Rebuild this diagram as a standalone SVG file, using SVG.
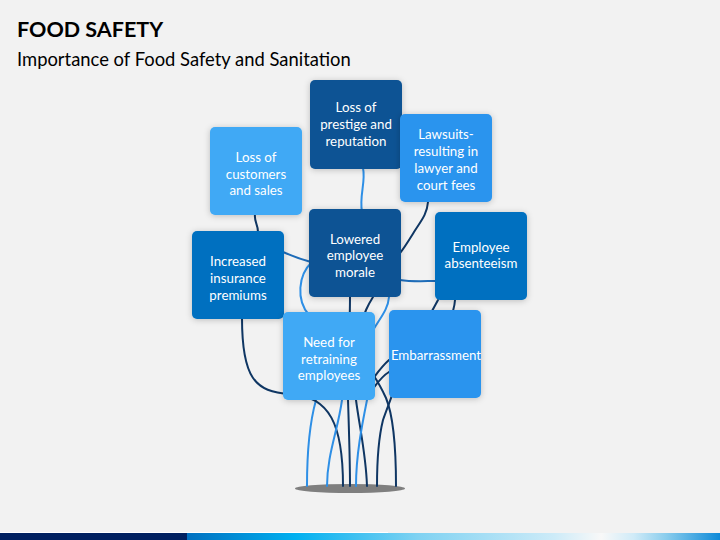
<svg xmlns="http://www.w3.org/2000/svg" width="720" height="540" viewBox="0 0 720 540">
<defs>
<style>
.title{font-family:Lato,"Liberation Sans",sans-serif;font-weight:bold;font-size:21.5px;fill:#000}
.sub{font-family:Lato,"Liberation Sans",sans-serif;font-size:18.4px;fill:#000}
.lbl{font-family:Lato,"Liberation Sans",sans-serif;font-size:13.3px;fill:#fff;text-anchor:middle}
.c{fill:none;stroke-width:2;stroke-linecap:round}
.dk{stroke:#0F3663}
.bl{stroke:#2E8FE6}
.md{stroke:#1E6CB8}
.box{filter:url(#sh)}
.light{fill:#3FA9F5}
.dark{fill:#0B5394}
.mid{fill:#0070C0}
.bright{fill:#2B94EE}
</style>
<filter id="sh" x="-20%" y="-20%" width="140%" height="140%">
<feDropShadow dx="0" dy="1" stdDeviation="3" flood-color="#000" flood-opacity="0.22"/>
</filter>
<linearGradient id="bar" x1="0" y1="0" x2="720" y2="0" gradientUnits="userSpaceOnUse">
<stop offset="0" stop-color="#002060"/>
<stop offset="0.259" stop-color="#002060"/>
<stop offset="0.26" stop-color="#0070C0"/>
<stop offset="0.41" stop-color="#00B0F0"/>
<stop offset="0.58" stop-color="#7FD2F2"/>
<stop offset="0.77" stop-color="#CDEBF8"/>
<stop offset="0.835" stop-color="#F8F8F8"/>
<stop offset="0.88" stop-color="#D0EBF8"/>
<stop offset="0.925" stop-color="#8ACDED"/>
<stop offset="1" stop-color="#0E8AD8"/>
</linearGradient>
</defs>
<rect x="0" y="0" width="720" height="540" fill="#F2F2F2"/>
<rect x="0" y="532" width="388" height="1" fill="#FFFFFF"/>
<rect x="0" y="533" width="720" height="7" fill="url(#bar)"/>
<text class="title" x="17" y="37">FOOD SAFETY</text>
<text class="sub" x="17" y="66">Importance of Food Safety and Sanitation</text>
<ellipse id="trunk" cx="350" cy="488.5" rx="55" ry="4.5" fill="#7F7F7F"/>
<g id="connectors">
<path class="c dk" d="M255,214 C254,222 258,224 258,232"/>
<path class="c bl" d="M363,168 C366,182 359,196 362,212"/>
<path class="c dk" d="M428,202 C427,215 420,222 414,232 C409,240 405,247 400,253"/>
<path class="c md" d="M283,252 C292,256 300,259 311,262"/>
<path class="c md" d="M400,280 C412,282 425,281 437,281"/>
<path class="c bl" d="M312,262 C298,275 296,300 309,315 C318,330 320,380 316,400 C309,425 307,455 307,486"/>
<path class="c dk" d="M242,318 C242,378 255,392 290,394 C330,396 343,425 343,486"/>
<path class="c bl" d="M345,360 C343,380 342,392 342,400 C338,430 327,455 327,486"/>
<path class="c dk" d="M350,297 C350,330 347,370 348,400 C349,430 350,460 350,486"/>
<path class="c dk" d="M373,297 C368,305 364,312 360,330 C355,360 354,385 356,400 C360,430 366,455 367,486"/>
<path class="c bl" d="M389,297 C388,310 380,318 372,332 C364,350 368,385 367,400 C362,425 356,455 356,486"/>
<path class="c dk" d="M360,360 C370,368 380,385 386,398 C393,415 396,445 396,486"/>
<path class="c dk" d="M400,370 C395,390 388,405 383,420 C378,440 377,460 377,486"/>
<path class="c dk" d="M438,300 C432,312 420,330 410,342 C400,352 394,356 389,360 C382,366 378,372 372,380"/>
<path class="c dk" d="M455,300 C453,330 420,360 389,372 C382,376 378,382 372,390"/>
</g>
<g id="node-customers"><rect class="box light" x="210" y="127" width="92" height="88" rx="5"/>
<text class="lbl"><tspan x="256" y="162">Loss of</tspan><tspan x="256" y="179">customers</tspan><tspan x="256" y="195">and sales</tspan></text></g>
<g id="node-prestige"><rect class="box dark" x="310" y="80" width="92" height="89" rx="5"/>
<text class="lbl"><tspan x="356" y="112">Loss of</tspan><tspan x="356" y="129">prestige and</tspan><tspan x="356" y="146">reputation</tspan></text></g>
<g id="node-lawsuits"><rect class="box bright" x="400" y="114" width="92" height="88" rx="5"/>
<text class="lbl"><tspan x="446" y="139">Lawsuits-</tspan><tspan x="446" y="156">resulting in</tspan><tspan x="446" y="173">lawyer and</tspan><tspan x="446" y="190">court fees</tspan></text></g>
<g id="node-morale"><rect class="box dark" x="309" y="209" width="92" height="88" rx="5"/>
<text class="lbl"><tspan x="355" y="244">Lowered</tspan><tspan x="355" y="260">employee</tspan><tspan x="355" y="277">morale</tspan></text></g>
<g id="node-absenteeism"><rect class="box mid" x="435" y="212" width="92" height="88" rx="5"/>
<text class="lbl"><tspan x="481" y="252">Employee</tspan><tspan x="481" y="268">absenteeism</tspan></text></g>
<g id="node-insurance"><rect class="box mid" x="192" y="231" width="92" height="88" rx="5"/>
<text class="lbl"><tspan x="238" y="266">Increased</tspan><tspan x="238" y="283">insurance</tspan><tspan x="238" y="300">premiums</tspan></text></g>
<g id="node-retraining"><rect class="box light" x="283" y="312" width="92" height="88" rx="5"/>
<text class="lbl"><tspan x="329" y="347">Need for</tspan><tspan x="329" y="364">retraining</tspan><tspan x="329" y="380">employees</tspan></text></g>
<g id="node-embarrassment"><rect class="box bright" x="389" y="310" width="92" height="88" rx="5"/>
<text class="lbl"><tspan x="436" y="360">Embarrassment</tspan></text></g>
</svg>
